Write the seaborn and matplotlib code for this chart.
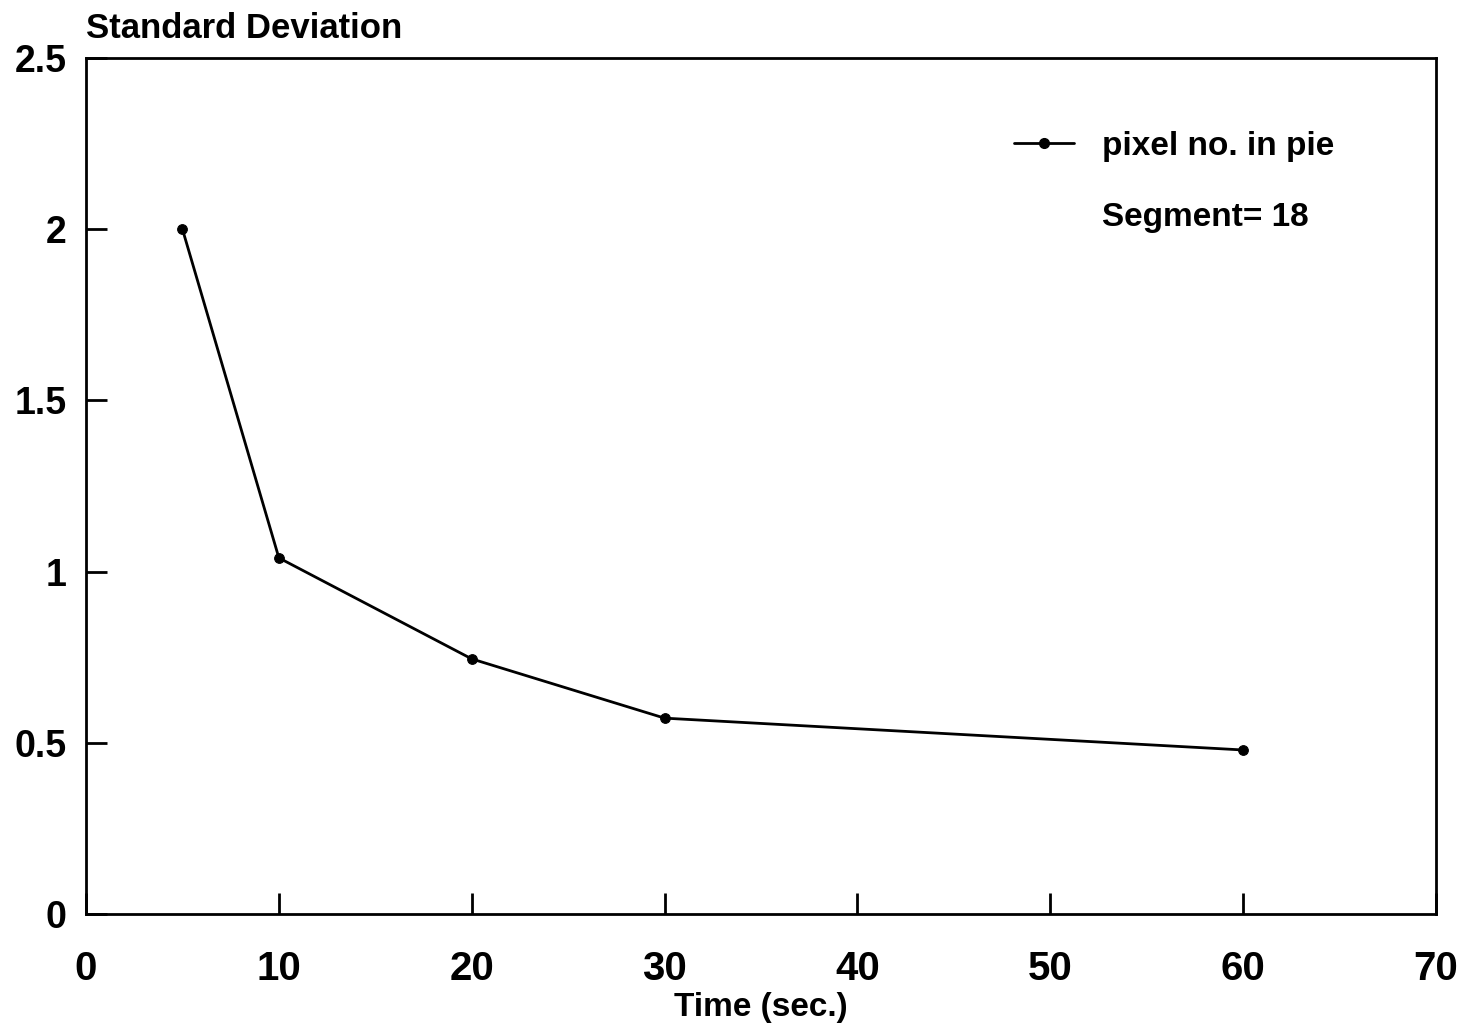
import matplotlib
matplotlib.use("Agg")
import matplotlib.pyplot as plt
from matplotlib.lines import Line2D
import seaborn as sns
import pandas as pd

time_sec = [5, 10, 20, 30, 60]
std_dev = [2.0, 1.04, 0.745, 0.572, 0.479]
series_label = "pixel no. in pie"
note_label = "Segment= 18"
x_ticks = [0, 10, 20, 30, 40, 50, 60, 70]
y_ticks = [0, 0.5, 1, 1.5, 2, 2.5]
y_tick_labels = ["0", "0.5", "1", "1.5", "2", "2.5"]

sns.set_style("white")
plt.rcParams['font.family'] = ['Liberation Sans', 'DejaVu Sans']
plt.rcParams['font.weight'] = 'bold'
plt.rcParams['text.color'] = 'black'

df = pd.DataFrame({"Time": time_sec, "SD": std_dev})

fig = plt.figure(figsize=(14.68, 10.28), dpi=100)
ax = fig.add_axes([0.0586, 0.1109, 0.9196, 0.8327])
sns.lineplot(data=df, x="Time", y="SD", ax=ax, color="black", linewidth=2,
             marker="o", markersize=7, markeredgecolor="black", label=series_label)

ax.set_xlim(0, 70)
ax.set_ylim(0, 2.5)
ax.set_xticks(x_ticks)
ax.set_yticks(y_ticks)
ax.set_yticklabels(y_tick_labels)
ax.tick_params(axis='both', which='major', direction='in', length=15, width=2,
               labelsize=29, colors='black', bottom=True, left=True,
               top=False, right=False)
ax.tick_params(axis='y', labelsize=27, pad=14)
ax.tick_params(axis='x', pad=26)
for lab in ax.get_xticklabels() + ax.get_yticklabels():
    lab.set_fontweight('bold')
for s in ax.spines.values():
    s.set_color('black')
    s.set_linewidth(2)
ax.set_xlabel("")
ax.set_ylabel("")

handles = [Line2D([0], [0], color='black', lw=2, marker='o', markersize=7),
           Line2D([0], [0], color='none')]
leg = ax.legend(handles, [series_label, note_label], loc='upper left',
                bbox_to_anchor=(0.665, 0.950), frameon=False,
                handlelength=1.8, handletextpad=0.85, labelspacing=1.2,
                prop={'weight': 'bold', 'size': 24})
for t in leg.get_texts():
    t.set_color('black')

fig.text(0.0586, 0.972, "Standard Deviation", fontsize=25, fontweight='bold',
         ha='left', va='center', color='black')
fig.text(0.5185, 0.02, "Time (sec.)", fontsize=24, fontweight='bold',
         ha='center', va='center', color='black')

fig.savefig("out.png", dpi=100)
